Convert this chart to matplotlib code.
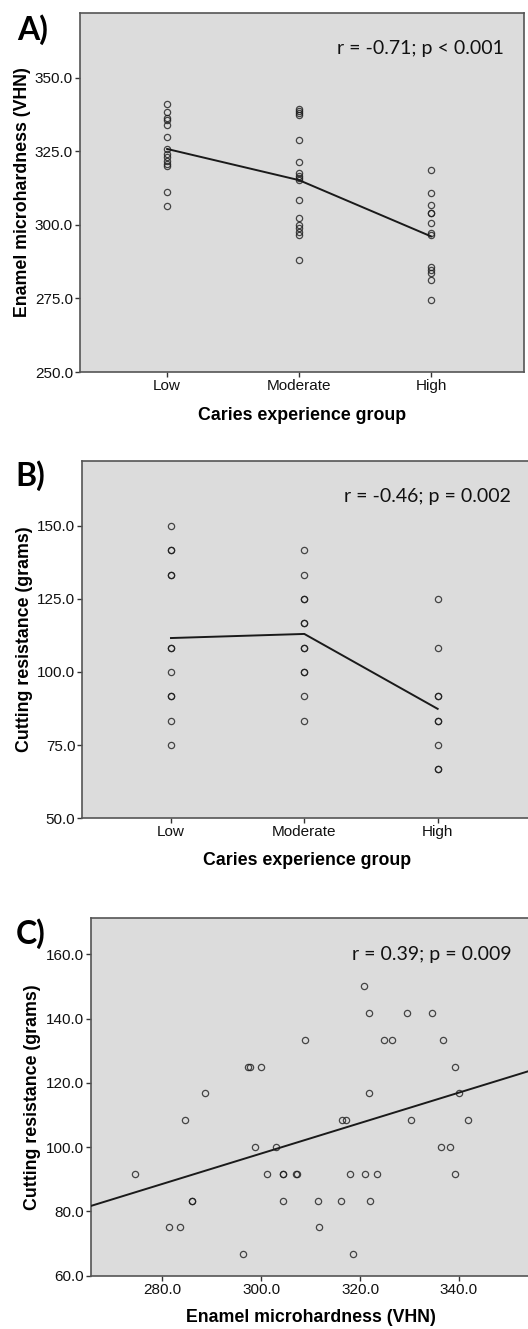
import numpy as np
import matplotlib
matplotlib.use("Agg")
import matplotlib.pyplot as plt

# caries experience groups (panels A and B)
groups = ["Low", "Moderate", "High"]

# A) enamel microhardness per group
vhn_low = [341.2, 338.4, 336.2, 335.7, 333.9, 329.7, 325.8, 324.1, 322.9, 321.6, 320.8, 320.0, 311.1, 306.4]
vhn_mod = [339.5, 338.7, 337.9, 337.3, 328.8, 321.2, 317.5, 316.7, 316.0, 315.3, 308.4, 302.5, 299.9, 298.8,
           297.6, 296.7, 288.2]
vhn_high = [318.7, 310.9, 306.8, 304.2, 303.9, 300.7, 297.3, 296.5, 285.7, 284.8, 283.7, 281.2, 274.4]
vhn_means = [325.8, 315.2, 296.1]

# B) cutting resistance per group
cr_low = [150.0, 141.7, 141.7, 133.3, 133.3, 108.3, 108.3, 100.0, 91.7, 91.7, 83.3, 75.0]
cr_mod = [141.7, 133.3, 125.0, 125.0, 116.7, 116.7, 108.3, 108.3, 100.0, 100.0, 91.7, 83.3]
cr_high = [125.0, 108.3, 91.7, 91.7, 83.3, 83.3, 75.0, 66.7, 66.7]
cr_means = [111.6, 113.0, 87.4]

# C) cutting resistance vs microhardness
c_vhn = [320.8, 321.8, 329.5, 334.6, 308.9, 324.9, 326.4, 336.8, 297.3, 297.7, 300.0, 339.2,
         288.6, 321.8, 340.1, 284.5, 316.4, 317.1, 330.3, 341.9, 298.8, 302.9, 336.3, 338.2,
         274.5, 301.1, 304.4, 304.4, 307.1, 307.3, 317.9, 321.1, 323.5, 339.3,
         286.1, 286.1, 304.4, 311.4, 316.2, 322.1, 281.4, 283.6, 311.7, 296.3, 318.5]
c_cr = [150.0, 141.7, 141.7, 141.7, 133.3, 133.3, 133.3, 133.3, 125.0, 125.0, 125.0, 125.0,
        116.7, 116.7, 116.7, 108.3, 108.3, 108.3, 108.3, 108.3, 100.0, 100.0, 100.0, 100.0,
        91.7, 91.7, 91.7, 91.7, 91.7, 91.7, 91.7, 91.7, 91.7, 91.7,
        83.3, 83.3, 83.3, 83.3, 83.3, 83.3, 75.0, 75.0, 75.0, 66.7, 66.7]
fit_slope = 0.4734
fit_intercept = -44.0

stats_a = "r = -0.71; p < 0.001"
stats_b = "r = -0.46; p = 0.002"
stats_c = "r = 0.39; p = 0.009"

plt.rcParams['font.family'] = ['Liberation Sans', 'DejaVu Sans']

W, H = 528, 1329
fig = plt.figure(figsize=(W / 100, H / 100), dpi=100)
fig.patch.set_facecolor('white')

bg = '#dcdcdc'
spine_col = '#555555'
lab_size = 12.8


def make_ax(left, top, right, bottom):
    ax = fig.add_axes([left / W, 1 - bottom / H, (right - left) / W, (bottom - top) / H])
    ax.set_facecolor(bg)
    for s in ax.spines.values():
        s.set_color(spine_col)
        s.set_linewidth(1.2)
    ax.tick_params(direction='out', length=3.5, width=1, color='#333333',
                   labelsize=11, labelcolor='#111111', top=False, right=False, pad=1.5)
    return ax


def dots(ax, x, y):
    ax.plot(x, y, 'o', ms=4.5, mfc='none', mec='#1a1a1a', mew=0.9, alpha=0.78, zorder=3)


def stats_text(ax, s):
    ax.text(0.955, 0.9, s, transform=ax.transAxes, ha='right', va='center',
            fontsize=14, family=['Lato', 'DejaVu Sans'], color='#111111')


# ---- panel A
axA = make_ax(80, 13, 524, 372)
for i, vals in enumerate([vhn_low, vhn_mod, vhn_high]):
    dots(axA, [i] * len(vals), vals)
axA.plot(range(3), vhn_means, color='#1a1a1a', lw=1.4, zorder=4)
axA.set_xlim(-0.66, 2.705)
axA.set_ylim(250, 372)
axA.set_yticks([250, 275, 300, 325, 350])
axA.set_yticklabels([f"{v:.1f}" for v in [250, 275, 300, 325, 350]])
axA.set_xticks(range(3))
axA.set_xticklabels(groups)
axA.set_ylabel("Enamel microhardness (VHN)", fontsize=lab_size, fontweight='bold', labelpad=3)
axA.set_xlabel("Caries experience group", fontsize=lab_size, fontweight='bold', labelpad=10)
stats_text(axA, stats_a)
fig.text(17 / W, 1 - 30 / H, "A)", fontsize=23, fontweight='bold', va='center', ha='left',
         family=['Lato', 'DejaVu Sans'])

# ---- panel B
axB = make_ax(82.3, 460.7, 531, 818.3)
for i, vals in enumerate([cr_low, cr_mod, cr_high]):
    dots(axB, [i] * len(vals), vals)
axB.plot(range(3), cr_means, color='#1a1a1a', lw=1.4, zorder=4)
axB.set_xlim(-0.665, 2.7)
axB.set_ylim(50, 172.2)
axB.set_yticks([50, 75, 100, 125, 150])
axB.set_yticklabels([f"{v:.1f}" for v in [50, 75, 100, 125, 150]])
axB.set_xticks(range(3))
axB.set_xticklabels(groups)
axB.set_ylabel("Cutting resistance (grams)", fontsize=lab_size, fontweight='bold', labelpad=3)
axB.set_xlabel("Caries experience group", fontsize=lab_size, fontweight='bold', labelpad=9)
stats_text(axB, stats_b)
fig.text(15 / W, 1 - 476 / H, "B)", fontsize=23, fontweight='bold', va='center', ha='left',
         family=['Lato', 'DejaVu Sans'])

# ---- panel C
axC = make_ax(90.7, 918.3, 531, 1275.7)
dots(axC, c_vhn, c_cr)
xl = np.array([265.5, 354.6])
axC.plot(xl, fit_slope * xl + fit_intercept, color='#1a1a1a', lw=1.4, zorder=4)
axC.set_xlim(xl[0], xl[1])
axC.set_ylim(60, 171.2)
axC.set_yticks([60, 80, 100, 120, 140, 160])
axC.set_yticklabels([f"{v:.1f}" for v in [60, 80, 100, 120, 140, 160]])
axC.set_xticks([280, 300, 320, 340])
axC.set_xticklabels([f"{v:.1f}" for v in [280, 300, 320, 340]])
axC.set_ylabel("Cutting resistance (grams)", fontsize=lab_size, fontweight='bold', labelpad=3)
axC.set_xlabel("Enamel microhardness (VHN)", fontsize=lab_size, fontweight='bold', labelpad=9)
stats_text(axC, stats_c)
fig.text(16 / W, 1 - 934 / H, "C)", fontsize=23, fontweight='bold', va='center', ha='left',
         family=['Lato', 'DejaVu Sans'])

fig.savefig("out.png", dpi=100, facecolor='white')
